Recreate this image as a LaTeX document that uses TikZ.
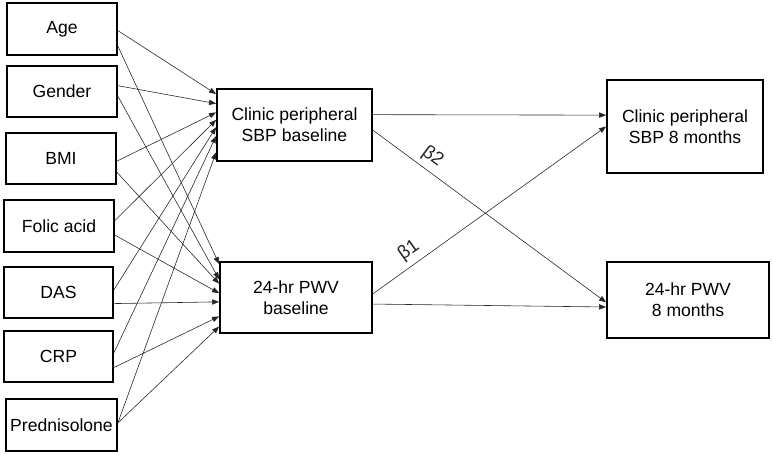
\documentclass[tikz,border=0pt]{standalone}
\usepackage{fontspec}
\setmainfont{Liberation Sans}
\usetikzlibrary{arrows.meta,calc}

\tikzset{
  box/.style={draw,line width=1.5pt,align=center,inner sep=1pt,
    font=\fontsize{15}{18}\selectfont},
  link/.style={-{Triangle[length=6pt,width=4.5pt]},line width=0.5pt,black!85},
  coef/.style={sloped,above=1pt,font=\fontsize{16}{18}\selectfont}
}

\begin{document}
\begin{tikzpicture}[x=0.03cm,y=-0.03cm]
  \useasboundingbox (0,0) rectangle (773,455);

  % predictors
  \node[box,minimum width=3.3cm,minimum height=1.56cm] (age) at (62,29) {Age};
  \node[box,minimum width=3.3cm,minimum height=1.53cm] (gender) at (62,91.5) {Gender};
  \node[box,minimum width=3.3cm,minimum height=1.53cm] (bmi) at (61,158.5) {BMI};
  \node[box,minimum width=3.3cm,minimum height=1.56cm] (folic) at (59,226) {Folic acid};
  \node[box,minimum width=3.27cm,minimum height=1.53cm] (das) at (58.5,292.5) {DAS};
  \node[box,minimum width=3.27cm,minimum height=1.53cm] (crp) at (58.5,356.5) {CRP};
  \node[box,minimum width=3.33cm,minimum height=1.56cm] (pred) at (61.5,425) {Prednisolone};

  % baseline
  \node[box,minimum width=4.65cm,minimum height=2.16cm] (sbp0) at (294.5,125) {Clinic peripheral\\SBP baseline};
  \node[box,minimum width=4.56cm,minimum height=2.13cm] (pwv0) at (296,297.5) {24-hr PWV\\baseline};

  % follow-up
  \node[box,minimum width=4.68cm,minimum height=2.79cm] (sbp8) at (685,126.5) {Clinic peripheral\\SBP 8 months};
  \node[box,minimum width=4.86cm,minimum height=2.28cm] (pwv8) at (688,300) {24-hr PWV\\8 months};

  % predictors -> SBP baseline
  \draw[link] ($(age.north east)!0.53!(age.south east)$) -- ($(sbp0.north west)!0.08!(sbp0.south west)$);
  \draw[link] ($(gender.north east)!0.39!(gender.south east)$) -- ($(sbp0.north west)!0.21!(sbp0.south west)$);
  \draw[link] ($(bmi.north east)!0.55!(bmi.south east)$) -- ($(sbp0.north west)!0.33!(sbp0.south west)$);
  \draw[link] ($(folic.north east)!0.40!(folic.south east)$) -- ($(sbp0.north west)!0.43!(sbp0.south west)$);
  \draw[link] ($(das.north east)!0.45!(das.south east)$) -- ($(sbp0.north west)!0.53!(sbp0.south west)$);
  \draw[link] ($(crp.north east)!0.43!(crp.south east)$) -- ($(sbp0.north west)!0.65!(sbp0.south west)$);
  \draw[link] ($(pred.north east)!0.46!(pred.south east)$) -- ($(sbp0.north west)!0.87!(sbp0.south west)$);

  % predictors -> PWV baseline
  \draw[link] ($(age.north east)!0.82!(age.south east)$) -- ($(pwv0.north west)!0.04!(pwv0.south west)$);
  \draw[link] ($(gender.north east)!0.59!(gender.south east)$) -- ($(pwv0.north west)!0.25!(pwv0.south west)$);
  \draw[link] ($(bmi.north east)!0.76!(bmi.south east)$) -- ($(pwv0.north west)!0.31!(pwv0.south west)$);
  \draw[link] ($(folic.north east)!0.67!(folic.south east)$) -- ($(pwv0.north west)!0.44!(pwv0.south west)$);
  \draw[link] ($(das.north east)!0.71!(das.south east)$) -- ($(pwv0.north west)!0.56!(pwv0.south west)$);
  \draw[link] ($(crp.north east)!0.71!(crp.south east)$) -- ($(pwv0.north west)!0.76!(pwv0.south west)$);
  \draw[link] ($(pred.north east)!0.46!(pred.south east)$) -- ($(pwv0.north west)!0.90!(pwv0.south west)$);

  % baseline -> follow-up
  \draw[link] ($(sbp0.north east)!0.36!(sbp0.south east)$) -- ($(sbp8.north west)!0.38!(sbp8.south west)$);
  \draw[link] ($(sbp0.north east)!0.57!(sbp0.south east)$) -- node[coef,pos=0.22] {β2} ($(pwv8.north west)!0.53!(pwv8.south west)$);
  \draw[link] ($(pwv0.north east)!0.45!(pwv0.south east)$) -- node[coef,pos=0.19] {β1} ($(sbp8.north west)!0.50!(sbp8.south west)$);
  \draw[link] ($(pwv0.north east)!0.59!(pwv0.south east)$) -- ($(pwv8.north west)!0.59!(pwv8.south west)$);
\end{tikzpicture}
\end{document}
